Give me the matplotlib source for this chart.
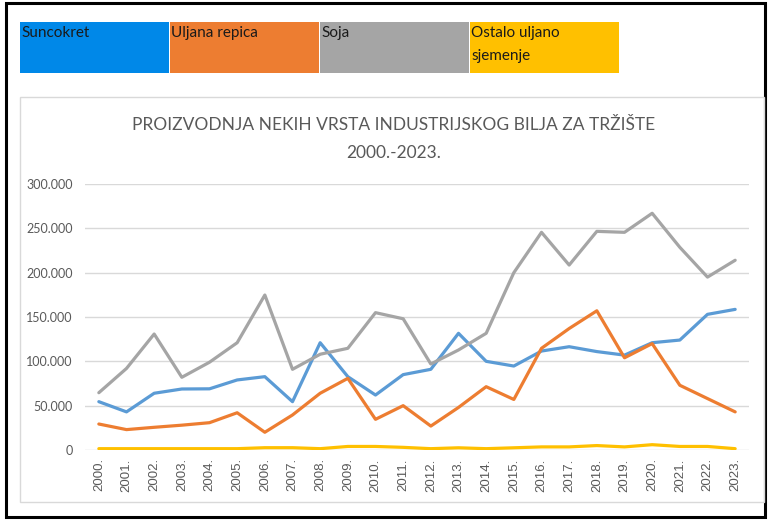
import matplotlib.pyplot as plt
from matplotlib.patches import Rectangle
from matplotlib.ticker import FuncFormatter

plt.rcParams['font.family'] = ['Lato', 'DejaVu Sans']

# Proizvodnja po godinama (tone)
years = list(range(2000, 2024))
suncokret = [54500, 43000, 64000, 68800, 69000, 79000, 82700, 54500, 121000, 82700,
             62000, 85000, 91000, 131600, 100000, 94700, 111600, 116500, 111000, 107000,
             121000, 124000, 153000, 158600]
uljana_repica = [29300, 23000, 25600, 28000, 30800, 42000, 20000, 39500, 64000, 80800,
                 34600, 50000, 27000, 48000, 71400, 57000, 114700, 137000, 157000, 104000,
                 120000, 73000, 58000, 43000]
soja = [64600, 92000, 130800, 82000, 99000, 121000, 174800, 91000, 108000, 114700,
        154900, 148000, 97000, 112800, 131600, 200000, 245500, 208600, 246600, 245500,
        267000, 228600, 195000, 214000]
ostalo = [1500, 1500, 1500, 1500, 1500, 1500, 2600, 2600, 1500, 4000,
          4000, 3000, 1500, 2500, 1500, 2500, 3500, 3500, 5000, 3500,
          6000, 4000, 4000, 1500]

series_names = ['Suncokret', 'Uljana repica', 'Soja', 'Ostalo uljano\nsjemenje']
line_colors = ['#5B9BD5', '#ED7D31', '#A5A5A5', '#FFC000']
box_colors = ['#0088E8', '#ED7D31', '#A5A5A5', '#FFC000']
x_labels = [f'{y}.' for y in years]

W, H = 768, 520
fig = plt.figure(figsize=(W / 100, H / 100), dpi=100)

# okviri
fig.patches.append(Rectangle((6 / W, 3 / H), 759 / W, 514 / H, transform=fig.transFigure,
                             fill=False, edgecolor='black', linewidth=2.2))
fig.patches.append(Rectangle((20 / W, (H - 502) / H), 744 / W, 405 / H, transform=fig.transFigure,
                             fill=False, edgecolor='#D9D9D9', linewidth=1))

# obojene oznake serija iznad grafa
for i, (name, c) in enumerate(zip(series_names, box_colors)):
    x0 = 20 + i * 150
    fig.patches.append(Rectangle((x0 / W, (H - 73) / H), 149 / W, 51 / H,
                                 transform=fig.transFigure, facecolor=c, edgecolor='none'))
    fig.text((x0 + 1) / W, (H - 26) / H, name, fontsize=11, va='top', ha='left',
             color='#1A1A1A', linespacing=1.85)

ax = fig.add_axes([85 / W, (H - 450) / H, 664 / W, 266 / H])
xs = range(len(years))
for vals, c in zip([suncokret, uljana_repica, soja, ostalo], line_colors):
    ax.plot(xs, vals, color=c, linewidth=2.3, solid_joinstyle='round', solid_capstyle='round')

ax.set_xlim(-0.5, len(years) - 0.5)
ax.set_ylim(0, 300000)
ax.set_yticks(range(0, 300001, 50000))
ax.yaxis.set_major_formatter(FuncFormatter(lambda v, p: f'{int(v):,}'.replace(',', '.')))
ax.set_xticks(list(xs))
ax.set_xticklabels(x_labels, rotation=90, fontsize=9.5, color='#595959',
                   family=['Liberation Sans', 'DejaVu Sans'])
for lbl in ax.get_yticklabels():
    lbl.set_fontsize(9)
    lbl.set_color('#595959')
ax.tick_params(axis='both', length=0)
ax.tick_params(axis='y', pad=9)
ax.tick_params(axis='x', pad=6)
ax.grid(axis='y', color='#D9D9D9', linewidth=1)
ax.set_axisbelow(True)
for s in ax.spines.values():
    s.set_visible(False)

fig.text(394 / W, (H - 125) / H, 'PROIZVODNJA NEKIH VRSTA INDUSTRIJSKOG BILJA ZA TRŽIŠTE',
         ha='center', va='center', fontsize=12.5, color='#595959')
fig.text(394 / W, (H - 153) / H, '2000.-2023.', ha='center', va='center',
         fontsize=12.5, color='#595959')

fig.savefig('out.png', dpi=100)
